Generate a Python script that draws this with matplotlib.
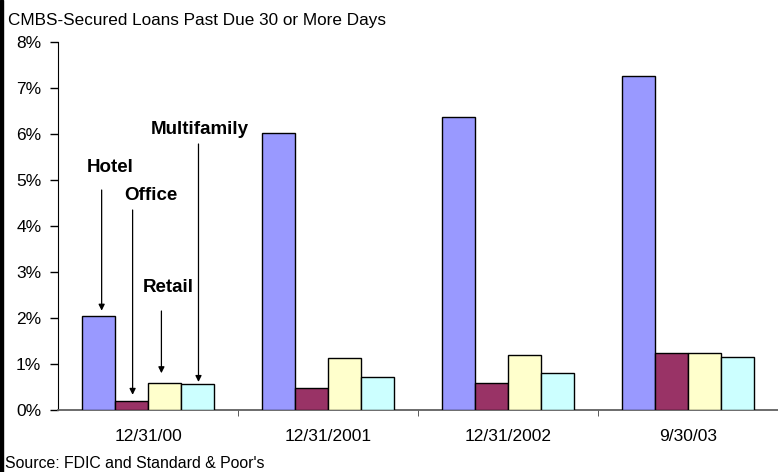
import numpy as np
import matplotlib.pyplot as plt
from matplotlib.patches import Rectangle

plt.rcParams['font.family'] = ['Liberation Sans', 'DejaVu Sans']

# data
categories = ['12/31/00', '12/31/2001', '12/31/2002', '9/30/03']
hotel = [2.05, 6.03, 6.38, 7.26]
office = [0.20, 0.48, 0.58, 1.25]
retail = [0.58, 1.13, 1.20, 1.25]
multifamily = [0.56, 0.71, 0.80, 1.15]

series = [hotel, office, retail, multifamily]
names = ['Hotel', 'Office', 'Retail', 'Multifamily']
colors = ['#9999FF', '#993366', '#FFFFCC', '#CCFFFF']

fig = plt.figure(figsize=(7.78, 4.72), dpi=100)
ax = fig.add_axes([58 / 778, 1 - 410 / 472, 1 - 58 / 778, (410 - 42) / 472])

x = np.arange(len(categories))
w = 0.183
offsets = (np.arange(4) - 1.5) * w
for vals, off, c in zip(series, offsets, colors):
    ax.bar(x + off, vals, width=w, color=c, edgecolor='black', linewidth=1, zorder=3)

ax.set_xlim(-0.5, len(categories) - 0.5)
ax.set_ylim(0, 8)
ax.set_yticks(range(0, 9))
ax.set_yticklabels([f'{i}%' for i in range(0, 9)])
ax.set_xticks(x)
ax.set_xticklabels(categories)
ax.set_xticks(np.arange(0.5, len(categories) - 0.5), minor=True)
ax.tick_params(axis='x', which='major', length=0, pad=14, labelsize=12.5)
ax.tick_params(axis='x', which='minor', length=4, direction='out', color='#404040')
ax.tick_params(axis='y', length=6, direction='out', pad=6, labelsize=12.5, width=1)

for s in ['top', 'right']:
    ax.spines[s].set_visible(False)
ax.spines['left'].set_color('black')
ax.spines['bottom'].set_color('#606060')
ax.spines['bottom'].set_linewidth(1.3)

# callouts on the first group
label_pos = [(110, 168), (151, 196), (168, 288), (200, 129)]
arrow_start = [190, 210, 311, 144]
tip_gap = [0.11, 0.13, 0.22, 0.05]
arrow_dx = [0.017, 0.006, -0.017, 0.006]


def px2data(px, py):
    return (px - 58) / 180 - 0.5, (410 - py) / 46


for i, name in enumerate(names):
    lx, ly = px2data(*label_pos[i])
    ax.text(lx, ly, name, ha='center', va='center', fontsize=13.5, fontweight='bold')
    bx = x[0] + offsets[i] + arrow_dx[i]
    _, sy = px2data(0, arrow_start[i])
    ax.annotate('', xy=(bx, series[i][0] + tip_gap[i]), xytext=(bx, sy),
                arrowprops=dict(arrowstyle='-|>', color='black', lw=0.9,
                                mutation_scale=9, shrinkA=0, shrinkB=0))

fig.text(8 / 778, 1 - 20 / 472, 'CMBS-Secured Loans Past Due 30 or More Days',
         fontsize=12.3, ha='left', va='center')
fig.text(5 / 778, 1 - 463 / 472, "Source: FDIC and Standard & Poor's",
         fontsize=11.4, ha='left', va='center')

# black strip on the left edge
fig.patches.append(Rectangle((0, 0), 3 / 778, 1, transform=fig.transFigure,
                             color='black', zorder=10))

fig.savefig('out.png', dpi=100)
